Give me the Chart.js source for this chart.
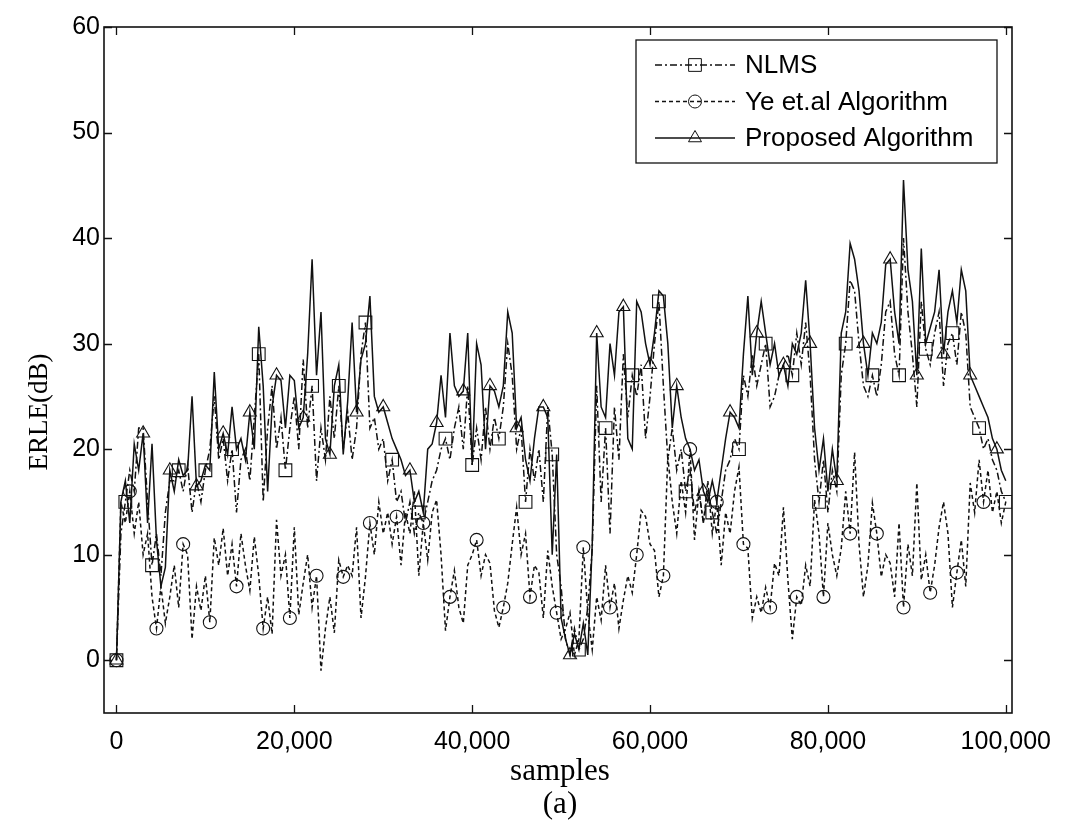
<!DOCTYPE html>
<html>
<head>
<meta charset="utf-8">
<title>ERLE comparison</title>
<script src="https://cdn.jsdelivr.net/npm/chart.js@4.4.1/dist/chart.umd.min.js"></script>
<style>
  html, body { margin: 0; padding: 0; background: #fff; overflow: hidden; }
  #wrap { width: 1081px; height: 827px; }
</style>
</head>
<body>
<div id="wrap"><canvas id="erle" width="1081" height="827"></canvas></div>
<script>
// ---- data (ERLE in dB, one value every 500 samples, 0 .. 100000) ----
const SAMPLE_STEP = 500;
const xTickValues = [0, 20000, 40000, 60000, 80000, 100000];
const yTickValues = [0, 10, 20, 30, 40, 50, 60];

const nlmsErle = [
  0, 12, 15, 18, 16, 22, 22, 15, 9, 12,
  8, 14, 17, 17, 18, 16, 18.5, 14, 17, 15,
  18, 20, 25, 19, 21, 17, 20, 14, 19, 20,
  17, 23, 29, 15, 22, 26, 20, 23, 18, 22,
  25, 20, 28.5, 22, 26, 17, 22, 19, 25, 21,
  26, 20, 23.5, 19, 22, 29, 32, 22, 23, 20,
  21, 17, 19, 15, 16, 13, 15, 12, 14, 13,
  15, 17, 18, 20, 21, 19, 22, 24, 20, 26,
  18.5, 22, 19, 24, 20, 23, 21, 24, 30, 27,
  20, 22, 15, 20, 17, 20, 15, 24, 19.5, 10,
  7, 2, 0.5, 3, 1, 2, 5, 10.5, 26, 15,
  22, 12, 24, 19, 29, 23, 27, 25, 28, 21,
  25, 30, 34, 26, 19, 22, 18, 20, 16, 18,
  14, 16, 13, 16, 14, 12, 15, 18, 19, 21,
  20, 27, 25, 29, 26, 28, 30, 24, 25, 27,
  28, 29, 27, 31, 28, 32, 27, 19, 15, 19,
  14, 18, 16, 27, 30, 36, 35, 30, 26, 25,
  27, 25, 28, 33, 34, 29, 27, 40, 33, 29,
  24, 34, 29.5, 28, 31, 33, 26, 30, 31, 28,
  33, 31, 24, 23, 22, 20, 21, 19, 18, 16,
  15
];

const yeErle = [
  0, 15, 13, 16, 12, 15, 10, 12, 6, 3,
  7, 3.5, 6, 9, 5, 11, 10, 2, 7, 4.7,
  8, 3.6, 11.6, 9, 12.5, 8, 11, 7, 12, 9,
  6.6, 11.7, 8, 3, 6, 2.5, 13.3, 8, 10, 4,
  12.6, 4.3, 7.3, 10, 5, 8, -1, 3, 6, 2.6,
  9.5, 7.9, 9, 8, 12.6, 4, 7.9, 13, 10, 15,
  12, 14, 11, 13.6, 9, 14, 12, 16, 8, 13,
  9.5, 14, 15.2, 10, 2.8, 6, 8.5, 5, 3.5, 9,
  10, 11.4, 8, 10, 9.2, 4.7, 3.1, 5, 7.3, 11,
  14.5, 10, 12, 6, 9, 8.3, 4, 10.4, 7, 4.5,
  2, 3, 4.5, 0.5, 2, 10.7, 4.5, 1, 6, 3.8,
  9, 5, 7.3, 3, 5.7, 8, 6.4, 10, 14.2, 13.6,
  11, 10.4, 6, 8, 19.3, 15, 12, 17, 14, 20,
  11.4, 16, 13, 17, 12, 15, 9, 14, 12, 16,
  18.3, 11, 10.6, 4, 6, 4.5, 6.9, 5, 9.2, 8,
  14.5, 7.6, 2, 6, 5.2, 9, 7, 15.2, 12, 6,
  13, 10, 8, 10.6, 16, 12, 19.7, 11, 6, 9,
  14.9, 12, 7.9, 10, 9.2, 6, 13, 5, 11, 8,
  16.8, 7.6, 10, 6.4, 9, 12.6, 15, 12, 5, 8.3,
  11.4, 7, 16.8, 14, 19, 15, 18, 14, 16, 13,
  15
];

const proposedErle = [
  0, 15, 17, 13, 20.5, 18, 21.5, 13, 20.5, 11.4,
  7, 8.8, 18, 16, 19, 17.5, 18, 25, 16.5, 17,
  18.5, 18, 27.3, 20, 21.5, 19.5, 24, 20, 21, 19,
  23.5, 20, 31.6, 26, 16, 24, 27, 26.5, 22, 27,
  26.5, 22, 23, 29, 38, 27, 33, 21, 19.5, 26,
  28, 19.5, 24.5, 32, 23.5, 28.5, 30, 34.5, 25, 23.5,
  24, 22.5, 21, 20, 19, 17.5, 18, 15, 16, 14,
  20, 20.5, 22.5, 27, 23, 31, 26, 25, 25.5, 31,
  18.5, 30, 28, 20, 26, 25.5, 24, 26, 33, 31,
  22, 23, 19, 17, 21, 24, 24, 23, 10, 19.5,
  4, 2, 0.5, 2.5, 1, 3.5, 0.5, 11, 31, 24,
  23, 30, 27, 33, 33.5, 21, 20, 34, 33, 30,
  28, 31, 35, 34.5, 30, 22, 26, 23, 21, 20,
  18, 19, 16, 15, 17, 15, 18, 21, 23.5, 23,
  22, 29, 34.5, 27, 31, 34, 31, 28, 30, 27,
  28, 26, 30, 29, 31, 36, 30, 22, 18, 21,
  16, 20, 17, 31, 33, 39.5, 38, 35, 30, 27,
  31, 30, 32, 37.5, 38, 33, 30, 45.5, 37, 34,
  27, 39, 30, 31.5, 33, 37, 29, 33, 35, 32,
  37, 35, 27, 26, 25, 24, 23, 21, 20, 18,
  17
];

const seriesLabels = ["NLMS", "Ye et.al Algorithm", "Proposed Algorithm"];

// ---- look ----
const INK = "#111";
const MARK_EVERY = 6;
const seriesStyle = [
  { dash: [7, 3, 2, 3], marker: "rect", radius: 9, offset: 2 },
  { dash: [4, 3], marker: "circle", radius: 6.5, offset: 3 },
  { dash: [], marker: "triangle", radius: 7.5, offset: 0 }
];
const sansFont = '"Liberation Sans", Arial, Helvetica, sans-serif';
const serifFont = '"Liberation Serif", "Times New Roman", serif';

function toPoints(arr) {
  return arr.map((v, i) => ({ x: i * SAMPLE_STEP, y: v }));
}

function makeDataset(label, arr, st) {
  return {
    label: label,
    data: toPoints(arr),
    borderColor: INK,
    borderWidth: 1.5,
    borderDash: st.dash,
    pointStyle: st.marker,
    pointRadius: c => (c.dataIndex === 0 || c.dataIndex % MARK_EVERY === st.offset) ? st.radius : 0,
    pointBorderColor: INK,
    pointBorderWidth: 1.1,
    pointBackgroundColor: "rgba(0,0,0,0)",
    pointHoverRadius: 0,
    tension: 0,
    fill: false
  };
}

function strokeMarker(ctx, kind, r, x, y) {
  ctx.beginPath();
  if (kind === "circle") {
    ctx.arc(x, y, r, 0, Math.PI * 2);
  } else if (kind === "rect") {
    const s = r * Math.SQRT1_2;
    ctx.rect(x - s, y - s, 2 * s, 2 * s);
  } else {
    let a = 0;
    ctx.moveTo(x + Math.sin(a) * r, y - Math.cos(a) * r);
    a += 2 * Math.PI / 3;
    ctx.lineTo(x + Math.sin(a) * r, y - Math.cos(a) * r);
    a += 2 * Math.PI / 3;
    ctx.lineTo(x + Math.sin(a) * r, y - Math.cos(a) * r);
    ctx.closePath();
  }
  ctx.stroke();
}

// frame, inward ticks, legend box and axis captions
const figureDecor = {
  id: "figureDecor",
  afterDatasetsDraw(chart) {
    const ctx = chart.ctx;
    const a = chart.chartArea;
    const xs = chart.scales.x, ys = chart.scales.y;
    ctx.save();
    ctx.strokeStyle = INK;
    ctx.setLineDash([]);
    ctx.lineWidth = 1.6;
    ctx.strokeRect(a.left, a.top, a.right - a.left, a.bottom - a.top);

    ctx.lineWidth = 1.3;
    const TL = 8;
    ctx.beginPath();
    xTickValues.forEach(v => {
      const px = Math.round(xs.getPixelForValue(v)) + 0.5;
      ctx.moveTo(px, a.bottom); ctx.lineTo(px, a.bottom - TL);
      ctx.moveTo(px, a.top); ctx.lineTo(px, a.top + TL);
    });
    yTickValues.forEach(v => {
      const py = Math.round(ys.getPixelForValue(v)) + 0.5;
      ctx.moveTo(a.left, py); ctx.lineTo(a.left + TL, py);
      ctx.moveTo(a.right, py); ctx.lineTo(a.right - TL, py);
    });
    ctx.stroke();

    // legend
    const box = { x: 636, y: 40, w: 361, h: 123 };
    ctx.fillStyle = "#fff";
    ctx.fillRect(box.x, box.y, box.w, box.h);
    ctx.lineWidth = 1.3;
    ctx.strokeRect(box.x, box.y, box.w, box.h);
    ctx.font = "26px " + sansFont;
    ctx.textBaseline = "middle";
    ctx.textAlign = "left";
    chart.data.datasets.forEach((ds, k) => {
      const st = seriesStyle[k];
      const y = 65 + k * 36.5;
      ctx.lineWidth = 1.4;
      ctx.setLineDash(st.dash);
      ctx.beginPath();
      ctx.moveTo(655, y); ctx.lineTo(735, y);
      ctx.stroke();
      ctx.setLineDash([]);
      ctx.lineWidth = 1;
      strokeMarker(ctx, st.marker, st.radius, 695, y);
      ctx.fillStyle = "#000";
      ctx.fillText(ds.label, 745, y + 1);
    });

    // axis captions
    ctx.fillStyle = "#000";
    ctx.textAlign = "center";
    ctx.font = "31px " + serifFont;
    ctx.fillText("samples", 560, 772);
    ctx.fillText("(a)", 560, 805);
    ctx.save();
    ctx.translate(40, 412);
    ctx.rotate(-Math.PI / 2);
    ctx.font = "27px " + serifFont;
    ctx.fillText("ERLE(dB)", 0, 0);
    ctx.restore();
    ctx.restore();
  }
};

const tickFont = { family: sansFont, size: 25 };

new Chart(document.getElementById("erle"), {
  type: "line",
  data: {
    datasets: [
      makeDataset(seriesLabels[0], nlmsErle, seriesStyle[0]),
      makeDataset(seriesLabels[1], yeErle, seriesStyle[1]),
      makeDataset(seriesLabels[2], proposedErle, seriesStyle[2])
    ]
  },
  options: {
    responsive: false,
    animation: false,
    events: [],
    layout: { padding: { top: 27, right: 69, left: 0, bottom: 0 } },
    plugins: {
      legend: { display: false },
      tooltip: { enabled: false }
    },
    scales: {
      x: {
        type: "linear",
        min: -1400,
        max: 100700,
        afterBuildTicks: s => { s.ticks = xTickValues.map(v => ({ value: v })); },
        afterFit: s => { s.height = 114; },
        grid: { display: false, drawTicks: false },
        border: { display: false },
        ticks: {
          color: "#000",
          font: tickFont,
          padding: 14,
          autoSkip: false,
          maxRotation: 0,
          callback: v => v.toLocaleString("en-US")
        }
      },
      y: {
        min: -5,
        max: 60,
        afterBuildTicks: s => { s.ticks = yTickValues.map(v => ({ value: v })); },
        afterFit: s => { s.width = 104; },
        grid: { display: false, drawTicks: false },
        border: { display: false },
        ticks: { color: "#000", font: tickFont, padding: 4 }
      }
    }
  },
  plugins: [figureDecor]
});
</script>
</body>
</html>
